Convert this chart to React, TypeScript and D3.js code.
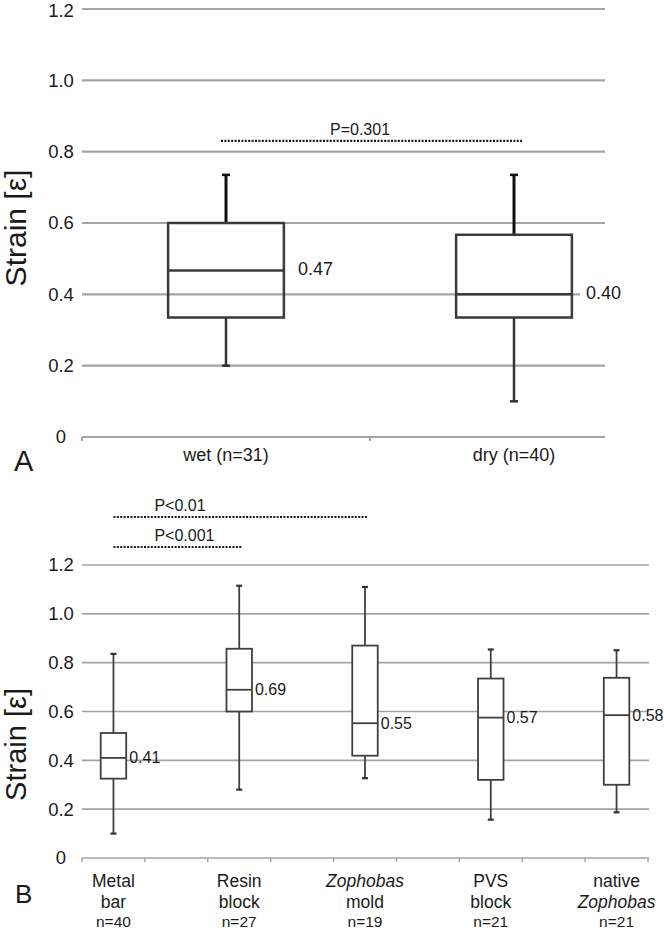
import React from "react";
import * as d3 from "d3";

// ---------- shared axis ----------
const yTickValues = [0, 0.2, 0.4, 0.6, 0.8, 1.0, 1.2];
const yTickLabels = ["0", "0.2", "0.4", "0.6", "0.8", "1.0", "1.2"];
const yTitle = "Strain [ε]";

// ---------- panel A ----------
const aCategories = ["wet (n=31)", "dry (n=40)"];
const aMin = [0.2, 0.1];
const aQ1 = [0.335, 0.335];
const aMedian = [0.467, 0.4];
const aQ3 = [0.6, 0.567];
const aMax = [0.735, 0.735];
const aMedianLabels = ["0.47", "0.40"];
const aPText = "P=0.301";
const aPLevel = 0.83;

// ---------- panel B ----------
const bSlots = ["s0", "s1", "s2", "s3", "s4", "s5", "s6", "s7", "s8"];
const bCategorySlots = [0, 2, 4, 6, 8];
const bNameLine1 = ["Metal", "Resin", "Zophobas", "PVS", "native"];
const bNameLine2 = ["bar", "block", "mold", "block", "Zophobas"];
const bItalic1 = [false, false, true, false, false];
const bItalic2 = [false, false, false, false, true];
const bN = ["n=40", "n=27", "n=19", "n=21", "n=21"];
const bMin = [0.1, 0.28, 0.327, 0.157, 0.187];
const bQ1 = [0.325, 0.6, 0.419, 0.32, 0.3];
const bMedian = [0.41, 0.689, 0.552, 0.575, 0.585];
const bQ3 = [0.512, 0.857, 0.87, 0.735, 0.738];
const bMax = [0.836, 1.115, 1.11, 0.854, 0.851];
const bMedianLabels = ["0.41", "0.69", "0.55", "0.57", "0.58"];
const bCompFrom = [0, 0];
const bCompTo = [2, 1];
const bCompLabels = ["P<0.01", "P<0.001"];
const bCompOffsets = [48, 18]; // px above the plot top

const FONT = "'Liberation Sans', Arial, Helvetica, sans-serif";
const TEXT = "#1a1a1a";
const GRID = "#a3a3a3";

export default function App() {
  // ---- scales A ----
  const yA = d3.scaleLinear().domain([0, 1.2]).range([437, 9]);
  const xA = d3.scaleBand<string>().domain(aCategories).range([82, 658]);
  const aLeft = 82;
  const aRight = 605;
  const aBoxW = xA.bandwidth() * 0.402;

  // ---- scales B ----
  const yB = d3.scaleLinear().domain([0, 1.2]).range([858, 565]);
  const xB = d3.scaleBand<string>().domain(bSlots).range([82, 648]);
  const bLeft = 82;
  const bRight = 649;
  const bBoxW = 25.5;
  const bx = (i: number) => (xB(bSlots[bCategorySlots[i]]) as number) + xB.bandwidth() / 2;
  const ax = (i: number) => (xA(aCategories[i]) as number) + xA.bandwidth() / 2;

  const tickLabelX = 61;

  return (
    <svg
      width={664}
      height={928}
      viewBox="0 0 664 928"
      style={{ position: "absolute", left: 0, top: 0, background: "#fff" }}
      fontFamily={FONT}
    >
      <rect x={0} y={0} width={664} height={928} fill="#fff" />

      {/* ================= PANEL A ================= */}
      <g>
        {yTickValues.map((v, i) =>
          v === 0 ? null : (
            <line key={"ga" + i} x1={aLeft} x2={aRight} y1={yA(v)} y2={yA(v)} stroke={GRID} strokeWidth={2.2} />
          )
        )}
        <line x1={aLeft} x2={aRight} y1={yA(0)} y2={yA(0)} stroke={GRID} strokeWidth={2.2} />
        {aCategories.map((c, i) => (
          <line
            key={"ta" + i}
            x1={xA(c) as number}
            x2={xA(c) as number}
            y1={yA(0)}
            y2={yA(0) + 4}
            stroke={GRID}
            strokeWidth={2}
          />
        ))}
        {yTickValues.map((v, i) => (
          <text
            key={"la" + i}
            x={tickLabelX}
            y={Math.max(yA(v), 11)}
            dy="0.35em"
            textAnchor="middle"
            fontSize={18.5}
            fill={TEXT}
          >
            {yTickLabels[i]}
          </text>
        ))}
        <text
          transform={`translate(26, ${(yA(0) + yA(1.2)) / 2 + 5}) rotate(-90)`}
          textAnchor="middle"
          fontSize={30}
          fill={TEXT}
        >
          {yTitle}
        </text>
        <text x={14} y={471} fontSize={29} fill={TEXT}>A</text>

        {aCategories.map((c, i) => {
          const cx = ax(i);
          return (
            <g key={"ba" + i}>
              <line x1={cx} x2={cx} y1={yA(aQ3[i])} y2={yA(aMax[i])} stroke="#111" strokeWidth={3} />
              <line x1={cx} x2={cx} y1={yA(aQ1[i])} y2={yA(aMin[i])} stroke="#333" strokeWidth={2.5} />
              <line x1={cx - 4} x2={cx + 4} y1={yA(aMax[i])} y2={yA(aMax[i])} stroke="#111" strokeWidth={2.5} />
              <line x1={cx - 4} x2={cx + 4} y1={yA(aMin[i])} y2={yA(aMin[i])} stroke="#333" strokeWidth={2.5} />
              <rect
                x={cx - aBoxW / 2}
                y={yA(aQ3[i])}
                width={aBoxW}
                height={yA(aQ1[i]) - yA(aQ3[i])}
                fill="#fff"
                fillOpacity={0}
                stroke="#3a3a3a"
                strokeWidth={2.5}
              />
              <line
                x1={cx - aBoxW / 2}
                x2={cx + aBoxW / 2}
                y1={yA(aMedian[i])}
                y2={yA(aMedian[i])}
                stroke="#3a3a3a"
                strokeWidth={2.5}
              />
              <rect
                x={cx + aBoxW / 2 + 8}
                y={yA(aMedian[i]) - 12}
                width={50}
                height={22}
                fill="#fff"
              />
              <text
                x={cx + aBoxW / 2 + 14}
                y={yA(aMedian[i]) - 2}
                dy="0.35em"
                fontSize={18}
                fill={TEXT}
              >
                {aMedianLabels[i]}
              </text>
            </g>
          );
        })}

        <line
          x1={ax(0) - 5}
          x2={ax(1) + 8}
          y1={yA(aPLevel)}
          y2={yA(aPLevel)}
          stroke="#1a1a1a"
          strokeWidth={2.2}
          strokeDasharray="2 1.4"
        />
        <text
          x={(ax(0) + ax(1)) / 2 - 10}
          y={yA(aPLevel) - 6}
          textAnchor="middle"
          fontSize={16}
          fill={TEXT}
        >
          {aPText}
        </text>

        {aCategories.map((c, i) => (
          <text key={"xa" + i} x={ax(i)} y={461} textAnchor="middle" fontSize={18} fill={TEXT}>
            {c}
          </text>
        ))}
      </g>

      {/* ================= PANEL B ================= */}
      <g>
        {yTickValues.map((v, i) =>
          v === 0 ? null : (
            <line key={"gb" + i} x1={bLeft} x2={bRight} y1={yB(v)} y2={yB(v)} stroke={GRID} strokeWidth={1.7} />
          )
        )}
        <line x1={bLeft} x2={bRight} y1={yB(0)} y2={yB(0)} stroke={GRID} strokeWidth={1.7} />
        {[...bSlots.map((s) => xB(s) as number), (xB(bSlots[bSlots.length - 1]) as number) + xB.bandwidth()].map(
          (x, i) => (
            <line key={"tb" + i} x1={x} x2={x} y1={yB(0)} y2={yB(0) + 4} stroke={GRID} strokeWidth={1.5} />
          )
        )}
        {yTickValues.map((v, i) => (
          <text
            key={"lb" + i}
            x={tickLabelX}
            y={yB(v)}
            dy="0.35em"
            textAnchor="middle"
            fontSize={18.5}
            fill={TEXT}
          >
            {yTickLabels[i]}
          </text>
        ))}
        <text
          transform={`translate(26, ${(yB(0) + yB(1.2)) / 2 + 33}) rotate(-90)`}
          textAnchor="middle"
          fontSize={29}
          fill={TEXT}
        >
          {yTitle}
        </text>
        <text x={15} y={903} fontSize={26} fill={TEXT}>B</text>

        {bMedian.map((m, i) => {
          const cx = bx(i);
          return (
            <g key={"bb" + i}>
              <line x1={cx} x2={cx} y1={yB(bQ3[i])} y2={yB(bMax[i])} stroke="#404040" strokeWidth={1.8} />
              <line x1={cx} x2={cx} y1={yB(bQ1[i])} y2={yB(bMin[i])} stroke="#404040" strokeWidth={1.8} />
              <line x1={cx - 3} x2={cx + 3} y1={yB(bMax[i])} y2={yB(bMax[i])} stroke="#333" strokeWidth={2.2} />
              <line x1={cx - 3} x2={cx + 3} y1={yB(bMin[i])} y2={yB(bMin[i])} stroke="#333" strokeWidth={2.2} />
              <rect
                x={cx - bBoxW / 2}
                y={yB(bQ3[i])}
                width={bBoxW}
                height={yB(bQ1[i]) - yB(bQ3[i])}
                fill="#fff"
                stroke="#404040"
                strokeWidth={1.8}
              />
              <line
                x1={cx - bBoxW / 2}
                x2={cx + bBoxW / 2}
                y1={yB(m)}
                y2={yB(m)}
                stroke="#404040"
                strokeWidth={1.8}
              />
              <text x={cx + bBoxW / 2 + 3} y={yB(m)} dy="0.35em" fontSize={16} fill={TEXT}>
                {bMedianLabels[i]}
              </text>
            </g>
          );
        })}

        {bCompLabels.map((lab, k) => {
          const yy = yB(1.2) - bCompOffsets[k];
          return (
            <g key={"cb" + k}>
              <line
                x1={bx(bCompFrom[k])}
                x2={bx(bCompTo[k]) + 3}
                y1={yy}
                y2={yy}
                stroke="#1a1a1a"
                strokeWidth={2.2}
                strokeDasharray="2 1.4"
              />
              <text x={bx(bCompFrom[k]) + 41} y={yy - 6} fontSize={16} fill={TEXT}>
                {lab}
              </text>
            </g>
          );
        })}

        {bMedian.map((_, i) => (
          <g key={"xl" + i} fill={TEXT} textAnchor="middle">
            <text x={bx(i)} y={887} fontSize={17.5} fontStyle={bItalic1[i] ? "italic" : "normal"}>
              {bNameLine1[i]}
            </text>
            <text x={bx(i)} y={908} fontSize={17.5} fontStyle={bItalic2[i] ? "italic" : "normal"}>
              {bNameLine2[i]}
            </text>
            <text x={bx(i)} y={926.5} fontSize={15.5}>
              {bN[i]}
            </text>
          </g>
        ))}
      </g>
    </svg>
  );
}
